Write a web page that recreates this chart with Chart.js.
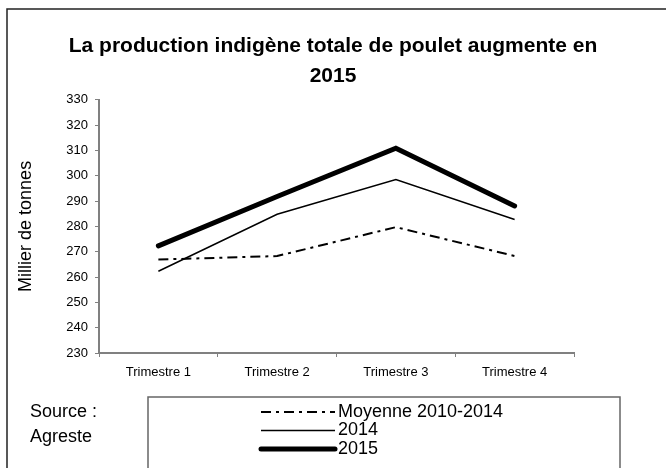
<!DOCTYPE html>
<html>
<head>
  <meta charset="UTF-8">
  <title>Production indigène de poulet</title>
  <style>
    body { margin: 0; background: #fff; }
    #wrap { width: 666px; height: 468px; }
  </style>
  <script src="https://cdn.jsdelivr.net/npm/chart.js"></script>
</head>
<body>
  <div id="wrap"><canvas id="chart" width="666" height="468"></canvas></div>

  <script>
  const quarters = ["Trimestre 1", "Trimestre 2", "Trimestre 3", "Trimestre 4"];
  const avg2010_2014 = [266.9, 268.3, 279.7, 268.3];
  const prod2014 = [262.3, 284.8, 298.5, 282.7];
  const prod2015 = [272.3, 291.8, 310.9, 288.1];

  const FONT = "'Liberation Sans', Arial, sans-serif";

  // frame round the whole picture
  const frame = {
    id: "frame",
    beforeDraw(chart) {
      const ctx = chart.ctx;
      ctx.save();
      ctx.strokeStyle = "#222";
      ctx.lineWidth = 1.5;
      ctx.strokeRect(7, 9, 700, 500);
      ctx.restore();
    }
  };

  // boxed legend + source note, as in the original
  const legendBox = {
    id: "legendBox",
    afterDraw(chart) {
      const ctx = chart.ctx;
      ctx.save();
      ctx.strokeStyle = "#666";
      ctx.lineWidth = 1.5;
      ctx.strokeRect(148, 397, 472, 90);

      ctx.font = "18px " + FONT;
      ctx.textBaseline = "middle";
      ctx.fillStyle = "#000";
      chart.data.datasets.forEach((ds, i) => {
        const y = 412 + i * 18.5;
        ctx.beginPath();
        ctx.setLineDash(ds.borderDash || []);
        ctx.lineWidth = ds.borderWidth;
        ctx.lineCap = ds.borderCapStyle || "butt";
        ctx.strokeStyle = ds.borderColor;
        ctx.moveTo(261, y);
        ctx.lineTo(335, y);
        ctx.stroke();
        ctx.setLineDash([]);
        ctx.fillText(ds.label, 338, y);
      });

      ctx.fillText("Source :", 30, 412);
      ctx.fillText("Agreste", 30, 437);
      ctx.restore();
    }
  };

  new Chart(document.getElementById("chart").getContext("2d"), {
    type: "line",
    data: {
      labels: quarters,
      datasets: [
        {
          label: "Moyenne 2010-2014",
          data: avg2010_2014,
          borderColor: "#000",
          borderWidth: 2,
          borderDash: [10, 5, 3, 5]
        },
        {
          label: "2014",
          data: prod2014,
          borderColor: "#000",
          borderWidth: 1.5
        },
        {
          label: "2015",
          data: prod2015,
          borderColor: "#000",
          borderWidth: 5,
          borderCapStyle: "round"
        }
      ]
    },
    options: {
      responsive: false,
      animation: false,
      layout: { padding: { left: 0, right: 0, top: 0, bottom: 85 } },
      elements: { point: { radius: 0 }, line: { tension: 0, fill: false } },
      plugins: {
        legend: { display: false },
        tooltip: { enabled: false },
        title: {
          display: true,
          text: ["La production indigène totale de poulet augmente en", "2015"],
          color: "#000",
          font: { family: FONT, size: 21, weight: "bold", lineHeight: 1.4 },
          padding: { top: 32, bottom: 9 }
        }
      },
      scales: {
        x: {
          offset: true,
          grid: { drawOnChartArea: false, offset: true, tickLength: 4, color: "#808080" },
          border: { color: "#808080", width: 2 },
          ticks: { color: "#000", font: { family: FONT, size: 13 }, padding: 8, maxRotation: 0 },
          afterFit(scale) { scale.height = 30; }
        },
        y: {
          min: 230,
          max: 330,
          ticks: { stepSize: 10, color: "#000", font: { family: FONT, size: 13 }, padding: 7 },
          grid: { drawOnChartArea: false, tickLength: 4, color: "#808080" },
          border: { color: "#808080", width: 2 },
          title: {
            display: true,
            text: "Millier de tonnes",
            color: "#000",
            font: { family: FONT, size: 18 },
            padding: { top: 15, bottom: 0 }
          },
          afterFit(scale) { scale.width = 99; }
        },
        // empty right-hand axis, only keeps the plot off the right edge
        spacer: {
          position: "right",
          grid: { display: false },
          border: { display: false },
          ticks: { display: false },
          afterFit(scale) { scale.width = 92; }
        }
      }
    },
    plugins: [frame, legendBox]
  });
  </script>
</body>
</html>
